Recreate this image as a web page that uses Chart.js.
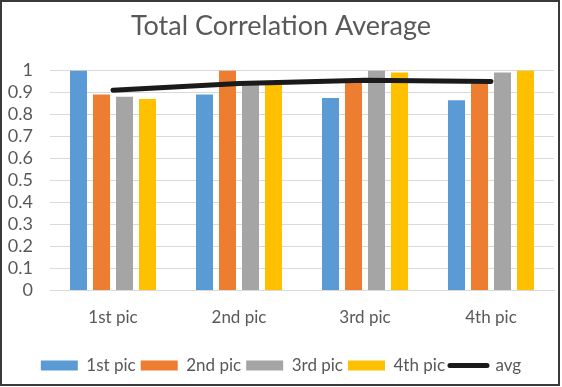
<!DOCTYPE html>
<html>
<head>
<meta charset="utf-8">
<script src="https://cdn.jsdelivr.net/npm/chart.js@4"></script>
<style>
  html, body { margin: 0; padding: 0; background: #fff; }
  #box {
    width: 560px; height: 386px;
    border: 2px solid #3a3a3a;
    box-sizing: border-box;
    position: relative;
  }
</style>
</head>
<body>
<div id="box"><canvas id="grafico"></canvas></div>
<script>
// dados
const categorias = ['1st pic', '2nd pic', '3rd pic', '4th pic'];
const pic1 = [1.0, 0.89, 0.875, 0.865];
const pic2 = [0.89, 1.0, 0.955, 0.94];
const pic3 = [0.88, 0.94, 1.0, 0.99];
const pic4 = [0.87, 0.94, 0.99, 1.0];
const media = [0.91, 0.94, 0.955, 0.95];

const cores = ['#5B9BD5', '#ED7D31', '#A5A5A5', '#FFC000'];
const fonte = 'Lato, "Liberation Sans", sans-serif';
const cinzaTexto = '#595959';

function barra(label, data, cor) {
  return {
    type: 'bar',
    label: label,
    data: data,
    backgroundColor: cor,
    borderWidth: 0,
    categoryPercentage: 0.73,
    barPercentage: 0.74,
    order: 1
  };
}

new Chart(document.getElementById('grafico'), {
  data: {
    labels: categorias,
    datasets: [
      barra('1st pic', pic1, cores[0]),
      barra('2nd pic', pic2, cores[1]),
      barra('3rd pic', pic3, cores[2]),
      barra('4th pic', pic4, cores[3]),
      {
        type: 'line',
        label: 'avg',
        data: media,
        borderColor: '#1a1a1a',
        backgroundColor: '#1a1a1a',
        borderWidth: 5,
        borderCapStyle: 'round',
        pointRadius: 0,
        tension: 0,
        order: -1
      }
    ]
  },
  options: {
    responsive: true,
    maintainAspectRatio: false,
    animation: false,
    layout: { padding: { left: 6, right: 4, top: 8, bottom: 0 } },
    plugins: {
      title: {
        display: true,
        text: 'Total Correlation Average',
        color: cinzaTexto,
        font: { family: fonte, size: 27, weight: 'normal' },
        padding: { top: 0, bottom: 28 }
      },
      legend: {
        position: 'bottom',
        labels: {
          color: cinzaTexto,
          font: { family: fonte, size: 17 },
          usePointStyle: true,
          pointStyleWidth: 37,
          boxHeight: 10,
          padding: 5,
          generateLabels: function(chart) {
            const itens = Chart.defaults.plugins.legend.labels.generateLabels(chart);
            itens.sort((a, b) => a.datasetIndex - b.datasetIndex);
            itens.forEach(item => {
              const ds = chart.data.datasets[item.datasetIndex];
              if (ds.type === 'line') {
                item.pointStyle = 'line';
                item.lineWidth = 5;
                item.strokeStyle = '#1a1a1a';
                item.lineCap = 'round';
              } else {
                item.pointStyle = 'rect';
                item.lineWidth = 0;
              }
            });
            return itens;
          }
        }
      },
      tooltip: { enabled: false }
    },
    scales: {
      x: {
        grid: { display: false },
        border: { color: '#d9d9d9' },
        ticks: { color: cinzaTexto, font: { family: fonte, size: 17 }, padding: 9 },
        afterFit: s => { s.height += 15; }
      },
      y: {
        min: 0,
        max: 1,
        grid: { color: '#d9d9d9', drawTicks: false },
        border: { display: false },
        afterFit: s => { s.width = 42; },
        ticks: {
          stepSize: 0.1,
          autoSkip: false,
          color: cinzaTexto,
          font: { family: fonte, size: 18 },
          padding: 17,
          callback: v => String(Math.round(v * 10) / 10)
        }
      }
    }
  }
});
</script>
</body>
</html>
